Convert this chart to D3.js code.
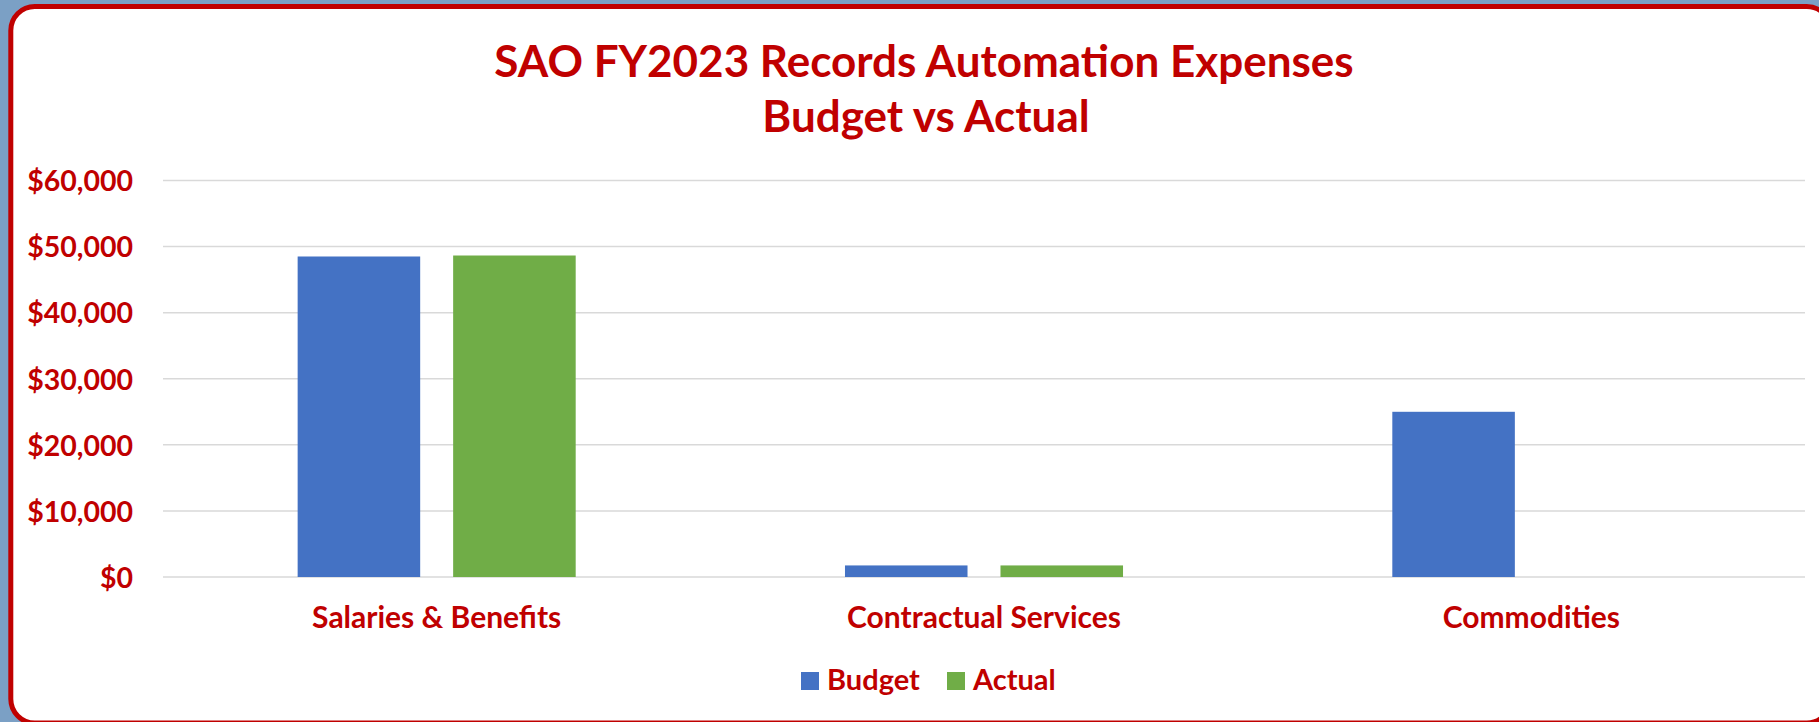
<!DOCTYPE html>
<html>
<head>
<meta charset="utf-8">
<script src="https://cdn.jsdelivr.net/npm/d3@7"></script>
<style>
	html, body { margin: 0; padding: 0; background: #7ba0c5; overflow: hidden; }
	.chart { width: 1819px; height: 722px; }
	text { font-family: Lato, "Open Sans", sans-serif; font-weight: bold; fill: #c00000; }
</style>
</head>
<body>
<div class="chart"></div>
<script>
// SAO FY2023 RECORDS AUTOMATION - BUDGET VS ACTUAL
const categories = ['Salaries & Benefits', 'Contractual Services', 'Commodities'];
const seriesNames = ['Budget', 'Actual'];
const budget = [48500, 1750, 25000];
const actual = [48650, 1750, 0];
const yTicks = [0, 10000, 20000, 30000, 40000, 50000, 60000];
const colors = ['#4472c4', '#70ad47'];

const W = 1819;
const H = 722;
const margin = {
	top: 180.5,
	right: 14,
	bottom: 145,
	left: 163
};
// inner plot size
const width = W - margin.left - margin.right;
const height = H - margin.top - margin.bottom;

const svg = d3.select('.chart')
	.append('svg')
		.attr('width', W)
		.attr('height', H);

// card with red rounded border
svg.append('rect')
	.attr('x', 10.8)
	.attr('y', 6.5)
	.attr('width', 1820)
	.attr('height', 716.5)
	.attr('rx', 24)
	.attr('fill', '#fff')
	.attr('stroke', '#c00000')
	.attr('stroke-width', 5);

// title
const title = svg.append('text')
	.attr('text-anchor', 'middle')
	.style('font-size', '44px');
title.append('tspan').attr('x', 924).attr('y', 77).text('SAO FY2023 Records Automation Expenses');
title.append('tspan').attr('x', 926).attr('y', 131.5).text('Budget vs Actual');

const g = svg.append('g')
	.attr('transform', `translate(${margin.left}, ${margin.top})`);

const yScale = d3.scaleLinear()
	.domain([0, 60000])
	.range([height, 0]);

const x0 = d3.scaleBand()
	.domain(categories)
	.range([0, width])
	.paddingInner(0.492)
	.paddingOuter(0.246);

const x1 = d3.scaleBand()
	.domain(seriesNames)
	.range([0, x0.bandwidth()])
	.paddingInner(0.212);

// gridlines
g.selectAll('.grid')
	.data(yTicks)
	.enter()
	.append('line')
		.attr('class', 'grid')
		.attr('x1', 0)
		.attr('x2', width)
		.attr('y1', d => yScale(d))
		.attr('y2', d => yScale(d))
		.attr('stroke', '#d9d9d9')
		.attr('stroke-width', 1.5);

// y axis labels
const yAxis = d3.axisLeft(yScale)
	.tickValues(yTicks)
	.tickSize(0)
	.tickPadding(30)
	.tickFormat(d => '$' + d3.format(',')(d));
g.append('g')
	.call(yAxis)
	.call(a => a.select('.domain').remove())
	.selectAll('text')
		.attr('fill', null)
		.attr('dy', '0.36em')
		.style('font-size', '28.5px');

// bars
const rows = categories.map((c, i) => ({ cat: c, values: [budget[i], actual[i]] }));
const groups = g.selectAll('.cat')
	.data(rows)
	.enter()
	.append('g')
		.attr('class', 'cat')
		.attr('transform', d => `translate(${x0(d.cat)}, 0)`);

groups.selectAll('rect')
	.data(d => d.values.map((v, j) => ({ key: seriesNames[j], value: v, color: colors[j] })))
	.enter()
	.filter(d => d.value > 0)
	.append('rect')
		.attr('x', d => x1(d.key))
		.attr('y', d => yScale(d.value))
		.attr('width', x1.bandwidth())
		.attr('height', d => height - yScale(d.value))
		.attr('fill', d => d.color);

// x axis labels
const xAxis = d3.axisBottom(x0)
	.tickSize(0)
	.tickPadding(0);
g.append('g')
	.attr('transform', `translate(0, ${height})`)
	.call(xAxis)
	.call(a => a.select('.domain').remove())
	.selectAll('text')
		.attr('fill', null)
		.attr('dy', null)
		.attr('y', 51)
		.style('font-size', '30px');

// legend
const legendX = [801, 947];
const legend = svg.selectAll('.legend')
	.data(seriesNames)
	.enter()
	.append('g')
		.attr('class', 'legend')
		.attr('transform', (d, i) => `translate(${legendX[i]}, 672)`);
legend.append('rect')
	.attr('width', 18)
	.attr('height', 18)
	.attr('fill', (d, i) => colors[i]);
legend.append('text')
	.attr('x', 26)
	.attr('y', 18)
	.style('font-size', '29px')
	.text(d => d);
</script>
</body>
</html>
